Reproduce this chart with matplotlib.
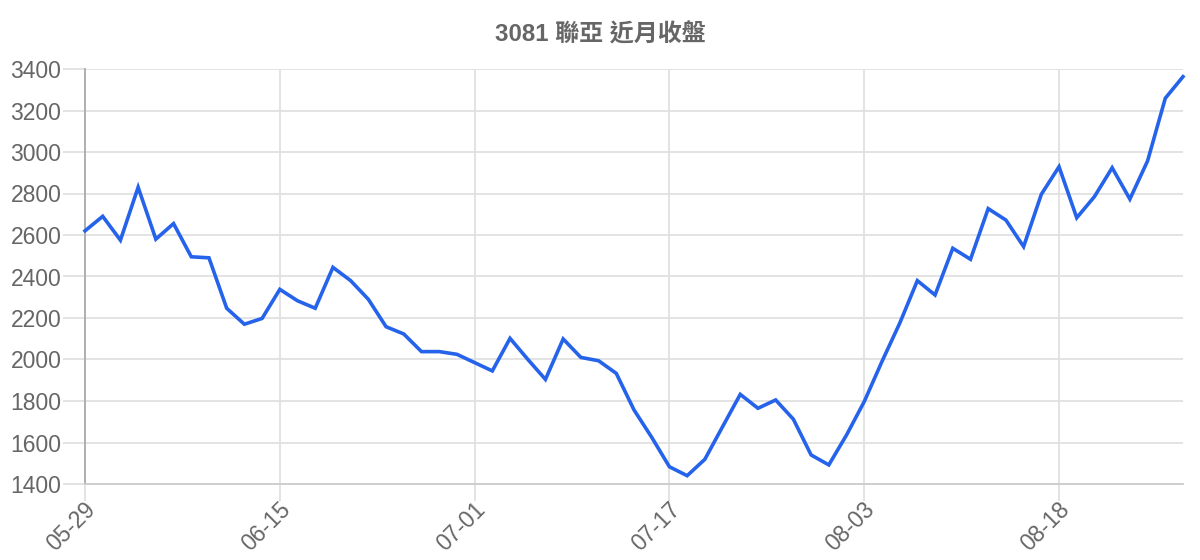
import matplotlib
matplotlib.use('Agg')
import matplotlib.pyplot as plt
from matplotlib.transforms import ScaledTranslation

plt.rcParams['font.family'] = ['Liberation Sans', 'Noto Sans CJK TC', 'DejaVu Sans']

TITLE = '3081 聯亞 近月收盤'

# closing prices, one per trading day
closes = [2620, 2690, 2575, 2830, 2580, 2655, 2495, 2490, 2247, 2170, 2198,
          2338, 2283, 2247, 2444, 2380, 2290, 2158, 2123, 2038, 2038,
          2025, 1985, 1945, 2102, 2001, 1904, 2099, 2010, 1994, 1933,
          1757, 1625, 1483, 1440, 1519, 1676, 1832, 1765, 1805, 1712,
          1540, 1492, 1636, 1797, 1990, 2174, 2380, 2311, 2536, 2483,
          2727, 2672, 2544, 2796, 2929, 2683, 2785, 2924, 2773, 2957,
          3259, 3363]
tick_labels = ['05-29', '06-15', '07-01', '07-17', '08-03', '08-18']
tick_step = 11
y_ticks = list(range(1400, 3401, 200))

GRID = '#e0e0e0'
TEXT = '#666666'

fig = plt.figure(figsize=(12, 5.6), dpi=100)
ax = fig.add_axes([85 / 1200, 1 - 484 / 560, 1098 / 1200, 415 / 560])

x = list(range(len(closes)))
ax.plot(x, closes, color='#2563eb', lw=2.6, solid_joinstyle='miter', zorder=3,
        clip_on=False)

ax.set_xlim(0, len(closes) - 1)
ax.set_ylim(y_ticks[0], y_ticks[-1])

ax.set_xticks(x[::tick_step])
ax.set_xticklabels(tick_labels, rotation=45, ha='right', va='top',
                   rotation_mode='anchor')
ax.set_yticks(y_ticks)
ax.set_yticklabels([str(v) for v in y_ticks])

ax.grid(True, color=GRID, lw=1.3)
ax.set_axisbelow(True)
ax.tick_params(axis='y', length=16, width=1.3, color=GRID, pad=1,
               labelsize=16.5, labelcolor=TEXT)
ax.tick_params(axis='x', length=12, width=1.3, color=GRID, pad=0,
               labelsize=16.5, labelcolor=TEXT)

# nudge rotated date labels so their ends sit at the ticks
shift = ScaledTranslation(-1 / 100, 3 / 100, fig.dpi_scale_trans)
for lab in ax.get_xticklabels():
    lab.set_transform(lab.get_transform() + shift)

for side in ['top', 'right']:
    ax.spines[side].set_visible(False)
ax.spines['left'].set_color('#aaaaaa')
ax.spines['left'].set_linewidth(1.3)
ax.spines['bottom'].set_color('#cccccc')
ax.spines['bottom'].set_linewidth(1.3)

fig.text(0.5, 1 - 35 / 560, TITLE, ha='center', va='center',
         fontsize=17.3, fontweight='bold', color=TEXT)

fig.savefig('out.png', dpi=100)
